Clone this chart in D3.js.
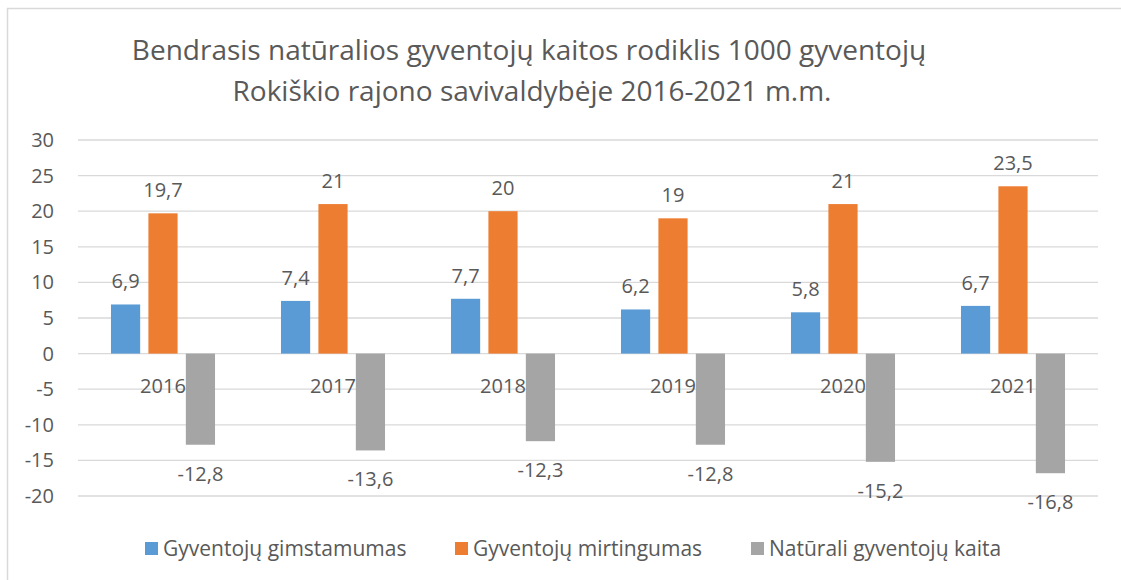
<!DOCTYPE html>
<html lang="lt">
  <head>
    <meta charset="utf-8">
    <title>Gyventojų kaita</title>
    <script src="https://cdn.jsdelivr.net/npm/d3@7"></script>
    <style>
      body { margin: 0; background: #fff; }
      text { font-family: "Open Sans", "Liberation Sans", sans-serif; fill: #595959; }
    </style>
  </head>
  <body>
    <div id="chart"></div>
    <script>

var years = ["2016", "2017", "2018", "2019", "2020", "2021"];
var seriesNames = ["Gyventojų gimstamumas", "Gyventojų mirtingumas", "Natūrali gyventojų kaita"];
var births = [6.9, 7.4, 7.7, 6.2, 5.8, 6.7];
var deaths = [19.7, 21, 20, 19, 21, 23.5];
var natural = [-12.8, -13.6, -12.3, -12.8, -15.2, -16.8];
var yTicks = [-20, -15, -10, -5, 0, 5, 10, 15, 20, 25, 30];
var colors = ["#5b9bd5", "#ed7d31", "#a5a5a5"];

var width = 1121, height = 580;
var plot = {left: 78, right: 1098, top: 140, bottom: 496};

var svg = d3.select("#chart").append("svg")
    .attr("width", width)
    .attr("height", height);

// outer chart border
svg.append("rect")
    .attr("x", 7.5).attr("y", 8.5)
    .attr("width", 1130).attr("height", 600)
    .style("fill", "none")
    .style("stroke", "#d9d9d9")
    .style("stroke-width", 1.5);

svg.append("text")
    .attr("x", 529).attr("y", 60)
    .attr("text-anchor", "middle")
    .style("font-size", "28px")
    .text("Bendrasis natūralios gyventojų kaitos rodiklis 1000 gyventojų");
svg.append("text")
    .attr("x", 532).attr("y", 101)
    .attr("text-anchor", "middle")
    .style("font-size", "28px")
    .text("Rokiškio rajono savivaldybėje 2016-2021 m.m.");

var y = d3.scaleLinear()
    .domain([-20, 30])
    .range([plot.bottom, plot.top]);

var x0 = d3.scaleBand()
    .domain(years)
    .range([plot.left, plot.right])
    .paddingInner(0.388)
    .paddingOuter(0.194);

var x1 = d3.scaleBand()
    .domain([0, 1, 2])
    .range([0, x0.bandwidth()])
    .paddingInner(0.22);

// gridlines
svg.append("g").selectAll("line")
    .data(yTicks)
    .enter().append("line")
    .attr("x1", plot.left).attr("x2", plot.right)
    .attr("y1", function(d) { return y(d); })
    .attr("y2", function(d) { return y(d); })
    .style("stroke", "#d9d9d9")
    .style("stroke-width", 1.3);

// y axis labels (plain hyphen for negatives, like the original)
var yAxis = d3.axisLeft(y)
    .tickValues(yTicks)
    .tickFormat(function(d) { return String(d); })
    .tickSize(0).tickPadding(0);
var gy = svg.append("g")
    .attr("transform", "translate(54,0)")
    .call(yAxis);
gy.select(".domain").remove();
gy.selectAll("text")
    .style("font-size", "20px")
    .style("fill", "#595959")
    .style("font-family", "'Open Sans', sans-serif");

var table = years.map(function(yr, i) {
  return {year: yr, values: [births[i], deaths[i], natural[i]]};
});

var groups = svg.selectAll(".group")
    .data(table)
    .enter().append("g")
    .attr("class", "group")
    .attr("transform", function(d) { return "translate(" + x0(d.year) + ",0)"; });

// category labels sit just under the zero line
groups.append("text")
    .attr("x", x0.bandwidth() / 2)
    .attr("y", y(0) + 39)
    .attr("text-anchor", "middle")
    .style("font-size", "20px")
    .text(function(d) { return d.year; });

var bars = groups.selectAll(".bar")
    .data(function(d) { return d.values.map(function(v, k) { return {k: k, v: v}; }); })
    .enter();

bars.append("rect")
    .attr("x", function(d) { return x1(d.k); })
    .attr("width", x1.bandwidth())
    .attr("y", function(d) { return y(Math.max(0, d.v)); })
    .attr("height", function(d) { return Math.abs(y(d.v) - y(0)); })
    .style("fill", function(d) { return colors[d.k]; });

bars.append("text")
    .attr("x", function(d) { return x1(d.k) + x1.bandwidth() / 2; })
    .attr("y", function(d) { return d.v >= 0 ? y(d.v) - 16 : y(d.v) + 36; })
    .attr("text-anchor", "middle")
    .style("font-size", "20px")
    .text(function(d) { return String(d.v).replace(".", ","); });

// legend
var legendX = [145, 455, 751];
var legend = svg.selectAll(".legend")
    .data(seriesNames)
    .enter().append("g")
    .attr("class", "legend")
    .attr("transform", function(d, i) { return "translate(" + legendX[i] + ",542)"; });

legend.append("rect")
    .attr("width", 13).attr("height", 13)
    .style("fill", function(d, i) { return colors[i]; });

legend.append("text")
    .attr("x", 18).attr("y", 14)
    .style("font-size", "21px")
    .text(function(d) { return d; });

    </script>
  </body>
</html>
